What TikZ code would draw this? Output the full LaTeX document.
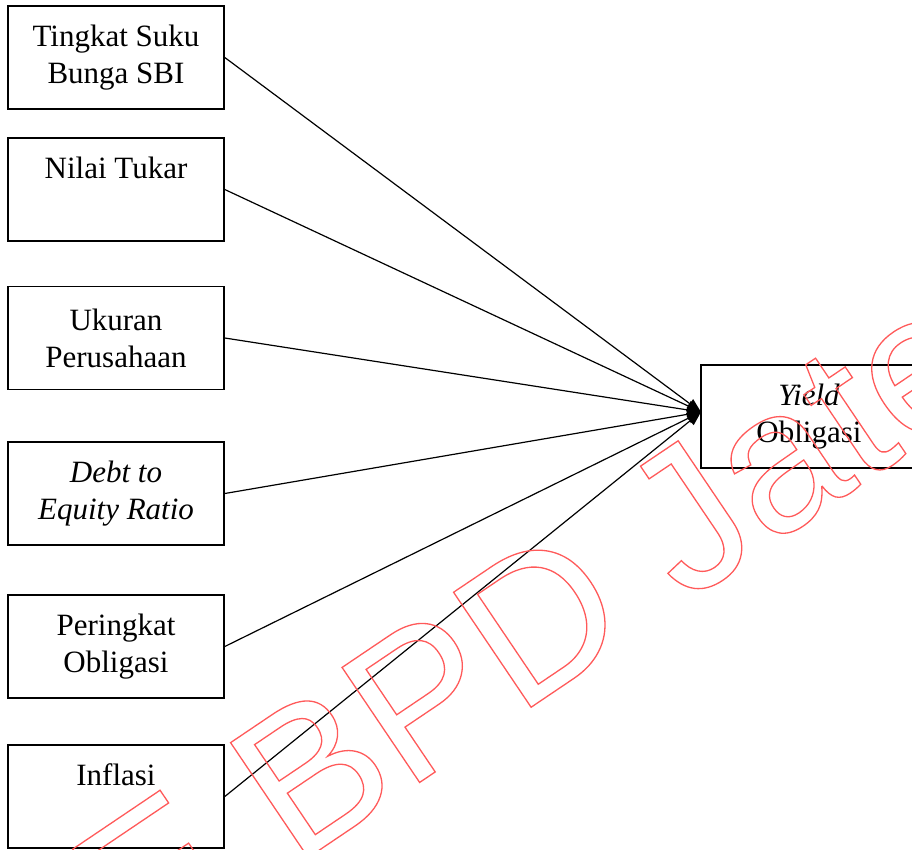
\documentclass[tikz,border=0pt]{standalone}
\usepackage{fontspec}
\setmainfont{Liberation Serif}
\newfontfamily\wmfont{Liberation Sans}
\usetikzlibrary{arrows.meta}
\definecolor{wmred}{RGB}{255,90,90}
\newcommand\outlinetext[1]{\special{pdf:literal direct 1 Tr 1.3 w}#1\special{pdf:literal direct 0 Tr}}
\begin{document}
\begin{tikzpicture}[x=1pt,y=-1pt,
  box/.style={draw, line width=1.6pt, minimum width=216pt, minimum height=103pt,
    inner sep=0pt, align=center, font=\fontsize{31}{37}\selectfont},
  conn/.style={line width=1.2pt, -{Triangle[length=14pt,width=11pt]}}]
\useasboundingbox (0,0) rectangle (912,849);
\clip (0,0) rectangle (912,849);
\node[box] (b1) at (116,57.5) {Tingkat Suku\\Bunga SBI};
\node[box] (b2) at (116,189.5) {Nilai Tukar\\\phantom{g}};
\node[box] (b3) at (116,338) {Ukuran\\Perusahaan};
\node[box] (b4) at (116,493.5) {\textit{Debt to}\\\textit{Equity Ratio}};
\node[box] (b5) at (116,646.5) {Peringkat\\Obligasi};
\node[box] (b6) at (116,796.5) {Inflasi\\\phantom{g}};
\node[box] (y) at (809,416.5) {\textit{Yield}\\Obligasi};
\coordinate (tip) at (701,412);
\foreach \n in {b1,b2,b3,b4,b5,b6} \draw[conn] (\n.east) -- (tip);
\node[rotate=34, anchor=base west, inner sep=0pt, text=wmred,
  font=\wmfont\fontsize{201.6}{240}\selectfont] (wm) at (136.5,973.4) {\outlinetext{E BPD Jateng}};
\end{tikzpicture}
\end{document}
